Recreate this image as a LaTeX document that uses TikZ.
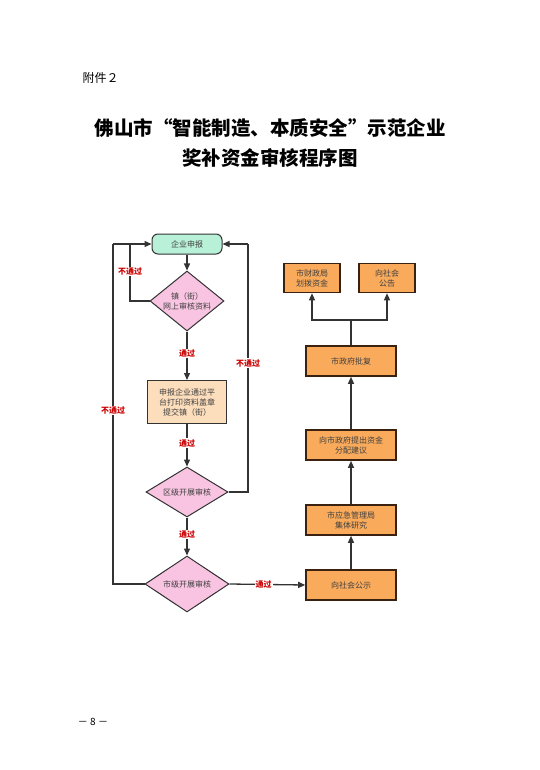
\documentclass[tikz,border=0pt]{standalone}
\usepackage{fontspec}
\newfontfamily\cjk{Noto Sans CJK SC}
\usetikzlibrary{shapes.geometric,arrows.meta}
\definecolor{lc}{HTML}{333333}
\definecolor{pinkd}{HTML}{F8C4E1}
\definecolor{mint}{HTML}{B9F0D8}
\definecolor{peach}{HTML}{FCDDBC}
\definecolor{orng}{HTML}{F9AA5B}
\definecolor{brd}{HTML}{3B2210}
\definecolor{redt}{HTML}{CC0000}
\begin{document}
\begin{tikzpicture}[x=1pt,y=-1pt,
  txt/.style={font=\cjk\fontsize{8}{10}\selectfont, text=black!75, align=center, inner sep=0pt},
  startbox/.style={txt, draw=lc, line width=1pt, fill=mint, rounded corners=6pt, minimum width=70pt, minimum height=20pt},
  dia/.style={txt, draw=lc, line width=1pt, fill=pinkd, diamond, aspect=1.3, inner sep=0pt},
  peachbox/.style={txt, draw=lc, line width=1pt, fill=peach, minimum width=79pt, minimum height=43pt},
  obox/.style={txt, draw=brd, line width=1.6pt, fill=orng, minimum width=90pt, minimum height=30pt},
  sbox/.style={txt, draw=brd, line width=1.6pt, fill=orng, minimum width=56pt, minimum height=29pt},
  conn/.style={draw=lc, line width=1.3pt},
  arr/.style={conn, -{Triangle[length=7pt,width=6pt]}},
  lab/.style={font=\cjk\bfseries\fontsize{8}{9}\selectfont, text=redt, fill=white, inner sep=1pt}
]
\useasboundingbox (0,0) rectangle (540,770);
\node[font=\cjk\fontsize{12}{14}\selectfont, anchor=west] (fj) at (79,78) {附件２};
\node[font=\cjk\bfseries\fontsize{19.5}{22}\selectfont] (t1) at (270,128) {佛山市“智能制造、本质安全”示范企业};
\node[font=\cjk\bfseries\fontsize{19.5}{22}\selectfont] (t2) at (270,158) {奖补资金审核程序图};
\node[font=\cjk\fontsize{10}{12}\selectfont] (pg) at (93,722) {－\ 8\ －};

\node[startbox] (s) at (187,244) {企业申报};
\node[dia, minimum width=74pt, minimum height=60pt] (d1) at (187,301) {镇（街）\\网上审核资料};
\node[peachbox] (b1) at (187,402) {申报企业通过平\\台打印资料盖章\\提交镇（街）};
\node[dia, minimum width=82pt, minimum height=50pt] (d2) at (187,492) {区级开展审核};
\node[dia, minimum width=84pt, minimum height=56pt] (d3) at (187,584) {市级开展审核};

\node[obox] (r1) at (351,585) {向社会公示};
\node[obox] (r2) at (351,520) {市应急管理局\\集体研究};
\node[obox] (r3) at (351,445) {向市政府提出资金\\分配建议};
\node[obox] (r4) at (351,361) {市政府批复};
\node[sbox] (r5) at (312,278) {市财政局\\划拨资金};
\node[sbox] (r6) at (387,278) {向社会\\公告};

\coordinate (j1) at (130,301);
\coordinate (j1t) at (130,244);
\coordinate (j2) at (113,584);
\coordinate (j2t) at (113,244);
\coordinate (j3) at (248,492);
\coordinate (j3t) at (248,244);
\coordinate (sp) at (351,320);
\coordinate (spl) at (312,320);
\coordinate (spr) at (387,320);

\draw[arr] (s) -- (d1);
\draw[arr] (d1) -- node[lab, pos=0.45] {通过} (b1);
\draw[arr] (b1) -- node[lab, pos=0.45] {通过} (d2);
\draw[arr] (d2) -- node[lab, pos=0.45] {通过} (d3);
\draw[arr] (d3.east) -- node[lab, pos=0.45] {通过} (r1.west);
\draw[conn] (d1.west) -- (j1) -- node[lab, pos=0.52] {不通过} (j1t);
\draw[arr] (j2t) -- (s.west);
\draw[conn] (d3.west) -- (j2) -- node[lab, pos=0.51] {不通过} (j2t);
\draw[conn] (d2.east) -- (j3) -- node[lab, pos=0.52] {不通过} (j3t);
\draw[arr] (j3t) -- (s.east);
\draw[arr] (r1) -- (r2);
\draw[arr] (r2) -- (r3);
\draw[arr] (r3) -- (r4);
\draw[conn] (r4) -- (sp);
\draw[arr] (sp) -- (spl) -- (r5);
\draw[arr] (sp) -- (spr) -- (r6);
\end{tikzpicture}
\end{document}
